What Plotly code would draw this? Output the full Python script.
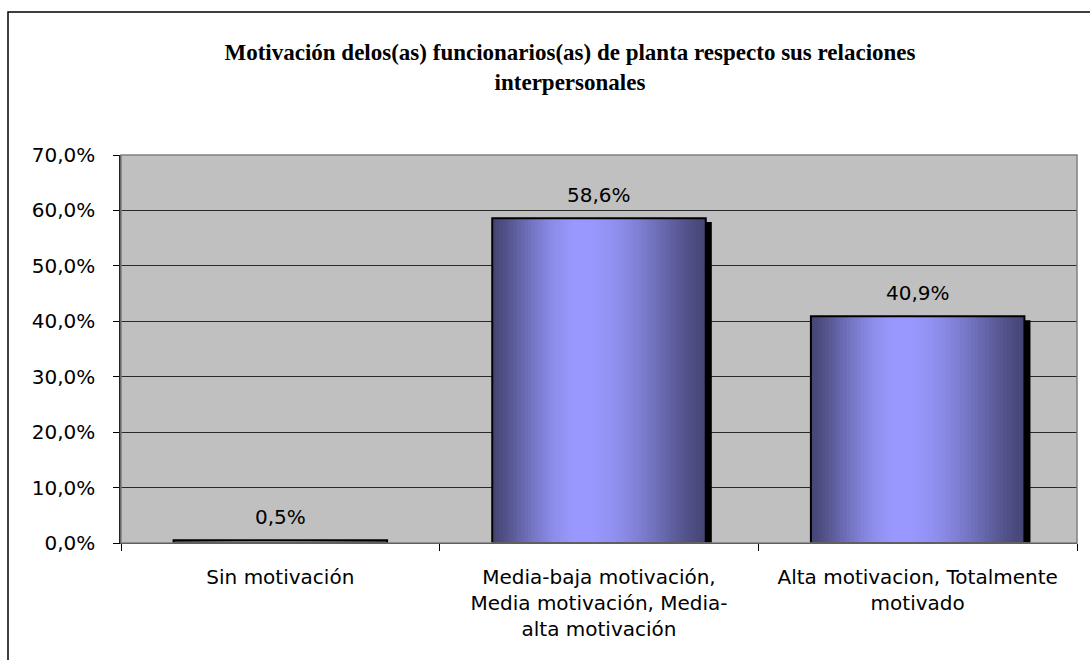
import math
import plotly.graph_objects as go

# Chart data
categories = [
    "Sin motivación",
    "Media-baja motivación,<br>Media motivación, Media-<br>alta motivación",
    "Alta motivacion, Totalmente<br>motivado",
]
values = [0.5, 58.6, 40.9]  # percent
y_ticks = [0, 10, 20, 30, 40, 50, 60, 70]
title_text = ("Motivación delos(as) funcionarios(as) de planta respecto sus relaciones"
              "<br>interpersonales")


def pct(v):
    return f"{v:.1f}%".replace(".", ",")


BAR_W = 0.67
N_STRIPS = 60
DARK = (70, 70, 118)
LIGHT = (153, 153, 255)
PEAK = 0.42


def strip_color(t):
    # cylinder-style shading: dark at both edges, brightest slightly left of centre
    if t <= PEAK:
        d = (PEAK - t) / PEAK
    else:
        d = (t - PEAK) / (1 - PEAK)
    k = math.cos(d * math.pi / 2) ** 1.3
    r, g, b = (int(DARK[i] + (LIGHT[i] - DARK[i]) * k) for i in range(3))
    return f"rgb({r},{g},{b})"


fig = go.Figure()

# drop shadow behind each bar
fig.add_trace(go.Bar(
    x=categories, y=values, base=-0.7, width=BAR_W, offset=-BAR_W / 2 + 0.019,
    marker=dict(color="black", line=dict(width=0)), hoverinfo="skip",
))

# gradient body: each strip runs to the bar's right edge and covers the previous one
sw = BAR_W / N_STRIPS
for i in range(N_STRIPS):
    t = (i + 0.5) / N_STRIPS
    fig.add_trace(go.Bar(
        x=categories, y=values, width=BAR_W - i * sw, offset=-BAR_W / 2 + i * sw,
        marker=dict(color=strip_color(t), line=dict(width=0)), hoverinfo="skip",
    ))

# bar outline
fig.add_trace(go.Bar(
    x=categories, y=values, width=BAR_W, offset=-BAR_W / 2,
    marker=dict(color="rgba(0,0,0,0)", line=dict(color="black", width=2)),
))

# value labels
for c, v in zip(categories, values):
    fig.add_annotation(
        x=c, y=v, text=pct(v), showarrow=False,
        yanchor="bottom", yshift=9,
        font=dict(family="DejaVu Sans", size=20, color="black"),
    )

# outer chart frame
fig.add_shape(type="rect", xref="paper", yref="paper",
              x0=(8 - 121) / 956, x1=1.1, y0=-0.5, y1=1 + (155 - 12) / 388,
              line=dict(color="black", width=1.5), fillcolor="rgba(0,0,0,0)",
              layer="below")
# plot-area border
fig.add_shape(type="rect", xref="paper", yref="paper", x0=0, x1=1, y0=0, y1=1,
              line=dict(color="#808080", width=1.5))

fig.update_layout(
    width=1090, height=660,
    margin=dict(l=121, r=13, t=155, b=117),
    paper_bgcolor="white", plot_bgcolor="#c0c0c0",
    barmode="overlay", showlegend=False,
    title=dict(
        text=title_text, x=(570 - 121) / 956, xref="paper", xanchor="center",
        y=(660 - 60) / 660, yanchor="top",
        font=dict(family="Liberation Serif", size=23, color="black", weight="bold"),
    ),
    font=dict(family="DejaVu Sans", size=20, color="black"),
)

fig.update_xaxes(
    type="category", tickson="boundaries", ticks="outside", ticklen=7,
    tickcolor="black", showgrid=False, showline=True, linecolor="black",
    linewidth=1, tickfont=dict(family="DejaVu Sans", size=20, color="black"),
    ticklabelstandoff=16,
)
fig.update_yaxes(
    range=[0, 70], tickvals=y_ticks, ticktext=[pct(v) for v in y_ticks],
    ticks="outside", ticklen=6, tickcolor="black", showgrid=True,
    gridcolor="#2a2a2a", gridwidth=1, showline=True, linecolor="#222",
    linewidth=1.5, zeroline=False,
    tickfont=dict(family="DejaVu Sans", size=20, color="black"),
    ticklabelstandoff=14,
)

fig.write_html("out.html")
